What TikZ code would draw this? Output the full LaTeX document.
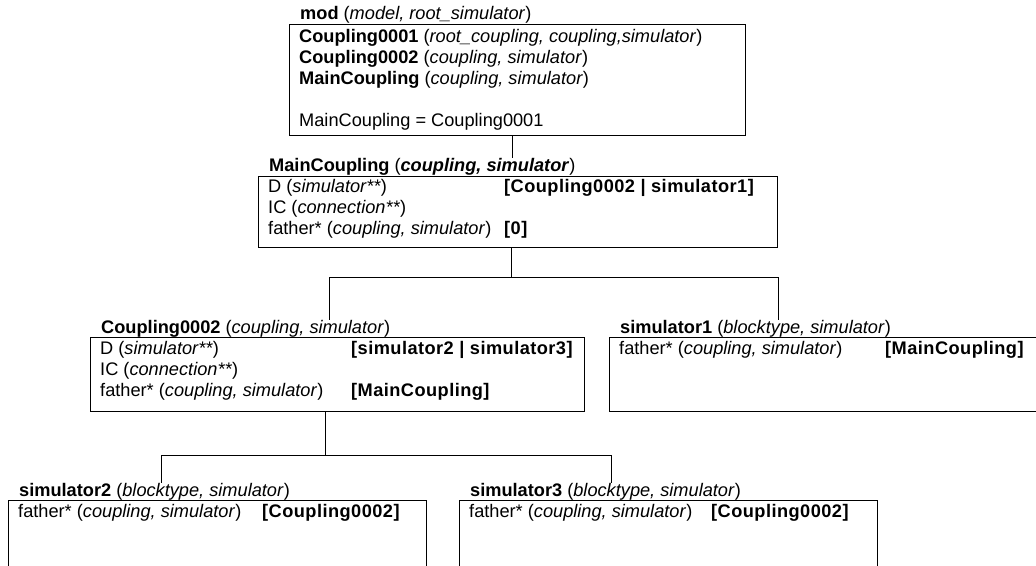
\documentclass[tikz,border=0pt]{standalone}
\usepackage{fontspec}
\setmainfont{Liberation Sans}
\newcommand{\rv}[1]{{\addfontfeatures{LetterSpace=2.5}\textbf{#1}}}
\begin{document}
\begin{tikzpicture}[x=1pt,y=-1pt,
  box/.style={draw, line width=0.9pt, inner sep=0pt, anchor=north west},
  txt/.style={inner sep=0pt, anchor=base west, font=\fontsize{18.2}{21}\selectfont},
  conn/.style={line width=0.9pt}]
\useasboundingbox (0,0) rectangle (1036,565);
% mod
\node[txt] (modtitle) at (300,19) {\textbf{mod} (\textit{model, root\_simulator})};
\node[box, minimum width=456pt, minimum height=111pt] (modbox) at (289,24) {};
\node[txt] (m1) at (299,42) {\textbf{Coupling0001} (\textit{root\_coupling, coupling,simulator})};
\node[txt] (m2) at (299,63) {\textbf{Coupling0002} (\textit{coupling, simulator})};
\node[txt] (m3) at (299,84) {\textbf{MainCoupling} (\textit{coupling, simulator})};
\node[txt] (m4) at (299,126) {MainCoupling = Coupling0001};
% MainCoupling
\node[txt] (mctitle) at (269,171) {\textbf{MainCoupling} (\textbf{\textit{coupling, simulator}})};
\node[box, minimum width=519pt, minimum height=71pt] (mcbox) at (258,176) {};
\node[txt] (mc1) at (268,192) {D (\textit{simulator**})};
\node[txt] (mc2) at (268,213) {IC (\textit{connection**})};
\node[txt] (mc3) at (268,234) {father* (\textit{coupling, simulator})};
\node[txt] (mc1r) at (504,192) {\rv{[Coupling0002 | simulator1]}};
\node[txt] (mc3r) at (504,234) {\rv{[0]}};
% Coupling0002
\node[txt] (c2title) at (101,333) {\textbf{Coupling0002} (\textit{coupling, simulator})};
\node[box, minimum width=494pt, minimum height=74pt] (c2box) at (90,337) {};
\node[txt] (c21) at (100,354) {D (\textit{simulator**})};
\node[txt] (c22) at (100,375) {IC (\textit{connection**})};
\node[txt] (c23) at (100,396) {father* (\textit{coupling, simulator})};
\node[txt] (c21r) at (351,354) {\rv{[simulator2 | simulator3]}};
\node[txt] (c23r) at (351,396) {\rv{[MainCoupling]}};
% simulator1
\node[txt] (s1title) at (620,333) {\textbf{simulator1} (\textit{blocktype, simulator})};
\node[box, minimum width=440pt, minimum height=74pt] (s1box) at (609,337) {};
\node[txt] (s11) at (619,354) {father* (\textit{coupling, simulator})};
\node[txt] (s11r) at (885,354) {\rv{[MainCoupling]}};
% simulator2
\node[txt] (s2title) at (19,496) {\textbf{simulator2} (\textit{blocktype, simulator})};
\node[box, minimum width=418pt, minimum height=80pt] (s2box) at (8,500) {};
\node[txt] (s21) at (18,517) {father* (\textit{coupling, simulator})};
\node[txt] (s21r) at (262,517) {\rv{[Coupling0002]}};
% simulator3
\node[txt] (s3title) at (470,496) {\textbf{simulator3} (\textit{blocktype, simulator})};
\node[box, minimum width=418pt, minimum height=80pt] (s3box) at (459,500) {};
\node[txt] (s31) at (469,517) {father* (\textit{coupling, simulator})};
\node[txt] (s31r) at (711,517) {\rv{[Coupling0002]}};
% connectors
\coordinate (x1) at (512,0);
\coordinate (j1) at (511,277);
\coordinate (jl) at (329,277);
\coordinate (jr) at (778,277);
\coordinate (j2) at (325,455);
\coordinate (kl) at (161,455);
\coordinate (kr) at (611,455);
\draw[conn] (modbox.south -| x1) -- (mctitle.north -| x1);
\draw[conn] (mcbox.south -| j1) -- (j1);
\draw[conn] (jl) -- (jr);
\draw[conn] (jl) -- (c2title.north -| jl);
\draw[conn] (jr) -- (s1title.north -| jr);
\draw[conn] (c2box.south -| j2) -- (j2);
\draw[conn] (kl) -- (kr);
\draw[conn] (kl) -- (s2title.north -| kl);
\draw[conn] (kr) -- (s3title.north -| kr);
\end{tikzpicture}
\end{document}
